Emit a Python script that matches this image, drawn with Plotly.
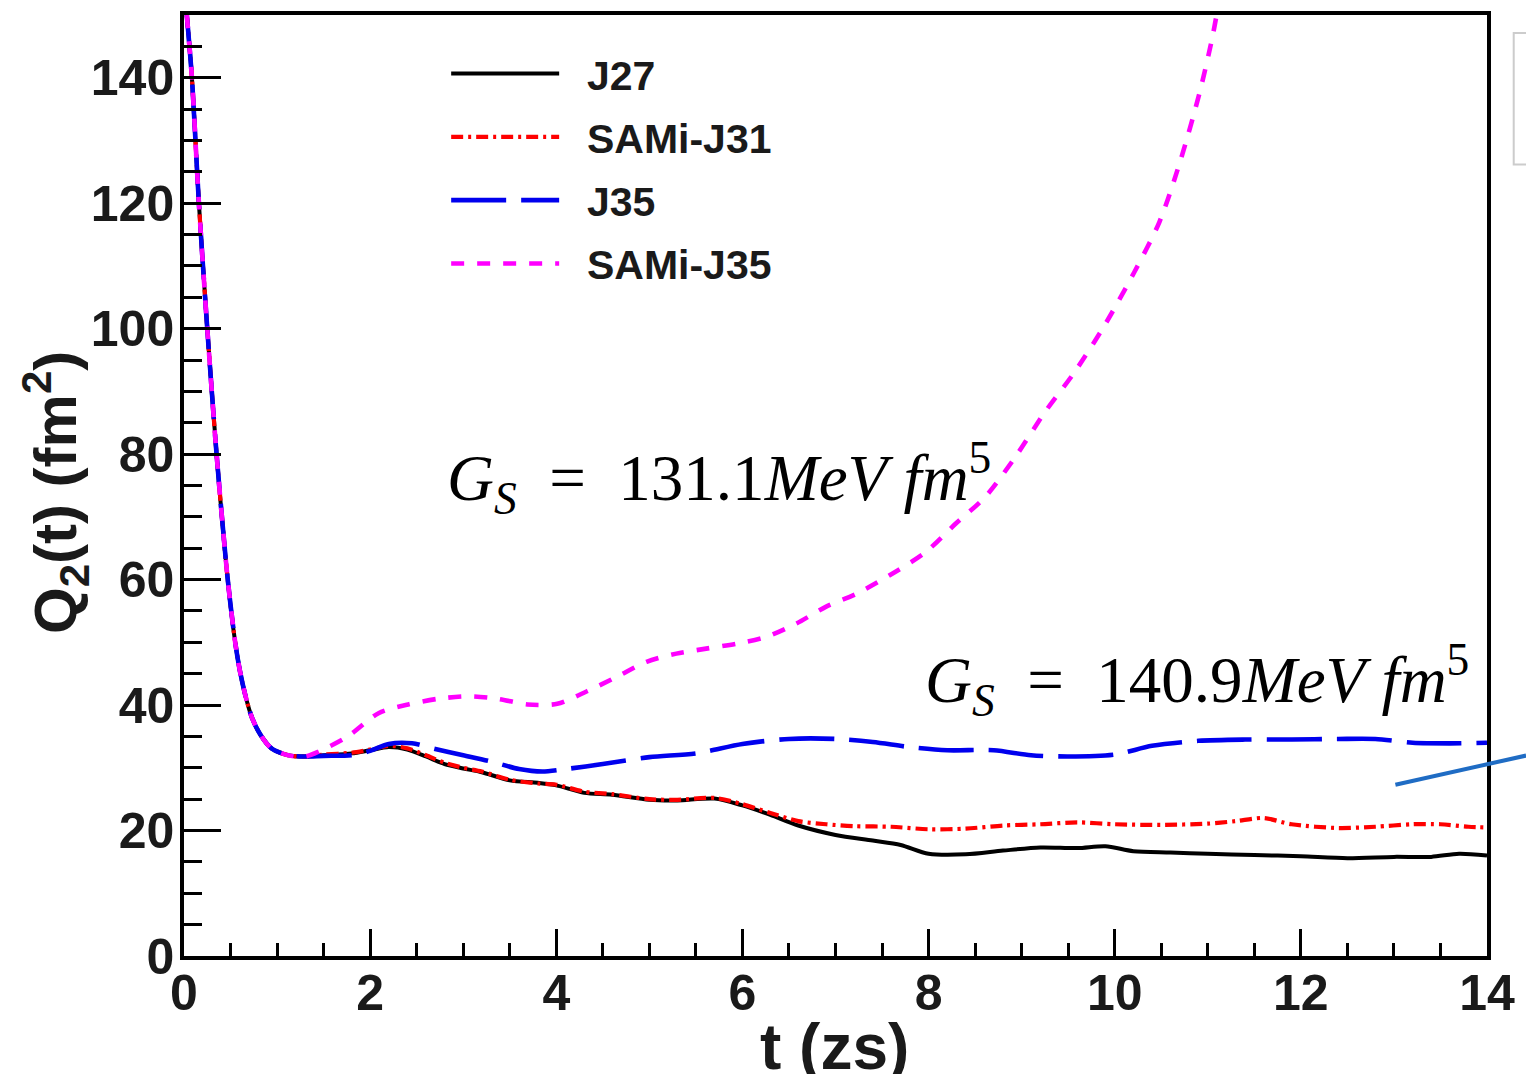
import plotly.graph_objects as go

# ---- data ----
t_early = [0.03, 0.085, 0.16, 0.25, 0.35, 0.47, 0.55, 0.6, 0.66, 0.73, 0.82, 0.94, 1.12, 1.3]
q_early = [150, 140, 120, 100, 80, 60, 50, 45.5, 41.5, 38.0, 35.3, 33.1, 32.0, 31.8]

t_j27 = [1.5, 1.8, 2.0, 2.2, 2.4, 2.6, 2.8, 3.0, 3.2, 3.5, 3.8, 4.0, 4.3, 4.6, 5.0, 5.3, 5.7,
         6.0, 6.3, 6.6, 7.0, 7.4, 7.7, 8.0, 8.4, 8.8, 9.2, 9.6, 9.9, 10.2, 10.6, 11.0, 11.5,
         12.0, 12.5, 13.0, 13.4, 13.7, 14.0]
q_j27 = [32.0, 32.3, 32.8, 33.3, 32.9, 31.8, 30.6, 29.9, 29.3, 28.0, 27.6, 27.2, 26.0, 25.7,
         24.9, 24.8, 25.1, 24.0, 22.5, 20.8, 19.3, 18.4, 17.7, 16.3, 16.2, 16.8, 17.3, 17.2,
         17.5, 16.7, 16.5, 16.3, 16.1, 15.9, 15.6, 15.8, 15.8, 16.3, 16.0]

t_j31 = [1.5, 1.8, 2.0, 2.2, 2.4, 2.6, 2.8, 3.0, 3.2, 3.5, 3.8, 4.0, 4.3, 4.6, 5.0, 5.3, 5.7,
         6.0, 6.3, 6.6, 6.9, 7.2, 7.6, 8.0, 8.4, 8.8, 9.2, 9.6, 10.0, 10.5, 11.0, 11.3, 11.6,
         11.9, 12.4, 12.8, 13.2, 13.5, 13.8, 14.0]
q_j31 = [32.1, 32.4, 32.9, 33.5, 33.1, 32.0, 30.8, 30.0, 29.4, 28.1, 27.5, 27.3, 26.2, 25.8,
         25.0, 24.9, 25.2, 24.2, 22.8, 21.5, 21.0, 20.7, 20.6, 20.2, 20.3, 20.8, 21.0, 21.3,
         21.0, 20.9, 21.1, 21.5, 22.0, 21.0, 20.4, 20.6, 21.0, 21.0, 20.6, 20.5]

t_j35 = [1.5, 1.8, 2.0, 2.2, 2.45, 2.7, 3.0, 3.3, 3.6, 3.85, 4.1, 4.5, 5.0, 5.5, 6.0, 6.5, 7.0,
         7.4, 7.8, 8.2, 8.7, 9.1, 9.5, 10.0, 10.4, 10.9, 11.4, 11.9, 12.4, 12.8, 13.2, 13.6, 14.0]
q_j35 = [31.9, 32.0, 32.7, 33.8, 33.9, 33.0, 32.0, 31.0, 29.8, 29.4, 29.8, 30.6, 31.7, 32.3,
         33.8, 34.6, 34.6, 34.1, 33.3, 32.8, 32.8, 32.0, 31.8, 32.1, 33.5, 34.3, 34.5, 34.5,
         34.6, 34.6, 34.0, 33.9, 34.0]

t_sj35 = [1.45, 1.76, 2.09, 2.41, 2.73, 3.05, 3.37, 3.69, 4.01, 4.33, 4.65, 4.97, 5.29, 5.61,
          5.94, 6.26, 6.58, 6.9, 7.22, 7.65, 7.97, 8.29, 8.61, 8.93, 9.25, 9.57, 9.89, 10.21,
          10.48, 10.7, 10.91, 11.05, 11.13]
q_sj35 = [32.6, 35.0, 38.7, 40.1, 41.0, 41.4, 41.0, 40.1, 40.2, 42.2, 44.5, 46.9, 48.2, 49.0,
          49.8, 50.9, 53.0, 55.7, 57.7, 61.3, 64.4, 68.9, 73.2, 79.5, 86.7, 93.1, 100.5, 109.0,
          117.0, 126.5, 137.5, 146.5, 153.0]

series_names = ["J27", "SAMi-J31", "J35", "SAMi-J35"]
x_ticks = [0, 2, 4, 6, 8, 10, 12, 14]
y_ticks = [0, 20, 40, 60, 80, 100, 120, 140]

styles = [
    dict(color="black", width=4.0, dash="solid"),
    dict(color="#ff0000", width=4.2, dash="12px,5px,3px,5px"),
    dict(color="#0000ee", width=4.6, dash="55px,15px"),
    dict(color="#ff00ff", width=4.6, dash="13px,13px"),
]
series = [(t_j27, q_j27), (t_j31, q_j31), (t_j35, q_j35), (t_sj35, q_sj35)]

fig = go.Figure()
for name, (tt, qq), st in zip(series_names, series, styles):
    fig.add_trace(go.Scatter(
        x=t_early + tt, y=q_early + qq, mode="lines", name="\u00a0\u00a0" + name,
        line=dict(color=st["color"], width=st["width"], dash=st["dash"], shape="spline", smoothing=0.8),
        legendgroup=name,
    ))

FONT = "Liberation Sans, Arial, sans-serif"
fig.update_layout(
    width=1526, height=1074,
    margin=dict(l=184, r=32, t=11, b=118),
    paper_bgcolor="white", plot_bgcolor="white",
    showlegend=True,
    legend=dict(
        x=0.2012, y=0.973, xanchor="left", yanchor="top",
        bgcolor="rgba(0,0,0,0)", borderwidth=0,
        font=dict(family=FONT, size=41, color="#1a1a1a", weight="bold"),
        itemwidth=108, tracegroupgap=7,
    ),
    xaxis=dict(
        range=[0, 14], tickvals=x_ticks, ticktext=[str(v) for v in x_ticks],
        showline=True, linecolor="black", linewidth=3.5, mirror=True,
        ticks="inside", ticklen=27, tickwidth=2.5, tickcolor="black",
        minor=dict(dtick=0.5, ticks="inside", ticklen=13, tickwidth=2.5, tickcolor="black"),
        showgrid=False, zeroline=False, ticklabelstandoff=-10,
        tickfont=dict(family=FONT, size=50, color="#1a1a1a", weight="bold"),
    ),
    yaxis=dict(
        range=[0, 150], tickvals=y_ticks, ticktext=[str(v) for v in y_ticks],
        showline=True, linecolor="black", linewidth=3.5, mirror=True,
        ticks="inside", ticklen=37, tickwidth=2.5, tickcolor="black",
        minor=dict(dtick=5, ticks="inside", ticklen=18, tickwidth=2.5, tickcolor="black"),
        showgrid=False, zeroline=False, ticklabelstandoff=-4,
        tickfont=dict(family=FONT, size=50, color="#1a1a1a", weight="bold"),
    ),
)

# axis titles
fig.add_annotation(text="t (zs)", xref="paper", yref="paper", x=0.499, y=-0.097,
                   xanchor="center", yanchor="middle", showarrow=False,
                   font=dict(family=FONT, size=64, color="#1a1a1a", weight="bold"))
fig.add_annotation(text="Q<sub>2</sub>(t) (fm<sup>2</sup>)", xref="paper", yref="paper",
                   x=-0.099, y=0.492, xanchor="center", yanchor="middle", textangle=-90,
                   showarrow=False,
                   font=dict(family=FONT, size=60, color="#1a1a1a", weight="bold"))

# G_S annotations
SERIF = "Liberation Serif, Times New Roman, serif"
fig.add_annotation(text="<i>G</i><sub><i>S</i></sub>&nbsp;&nbsp;=&nbsp;&nbsp;131.1<i>MeV&nbsp;fm</i><sup>5</sup>",
                   x=2.8, y=76.2, xanchor="left", yanchor="middle", showarrow=False,
                   font=dict(family=SERIF, size=65, color="black"))
fig.add_annotation(text="<i>G</i><sub><i>S</i></sub>&nbsp;&nbsp;=&nbsp;&nbsp;140.9<i>MeV&nbsp;fm</i><sup>5</sup>",
                   x=7.94, y=44.0, xanchor="left", yanchor="middle", showarrow=False,
                   font=dict(family=SERIF, size=65, color="black"))

# blue pointer line and partial box at right edge (decorations from the source slide)
fig.add_shape(type="line", xref="paper", yref="paper", x0=0.9297, y0=0.182, x1=1.03, y1=0.213,
              line=dict(color="#1f6cc4", width=4))
fig.add_shape(type="rect", xref="paper", yref="paper", x0=1.0205, y0=0.841, x1=1.06, y1=0.981,
              line=dict(color="#cccccc", width=2))

fig.write_html("out.html")
